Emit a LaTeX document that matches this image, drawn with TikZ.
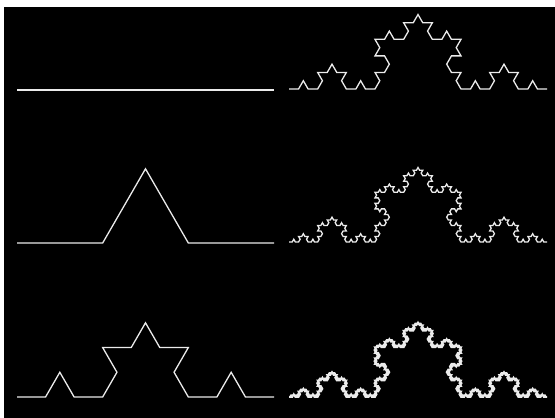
\documentclass[tikz,border=0pt]{standalone}
\usetikzlibrary{lindenmayersystems}
\pgfdeclarelindenmayersystem{Koch}{\rule{F -> F+F--F+F}}
\tikzset{
  koch/.style={draw=white!92!black, line width=1.3pt, line join=miter,
    lindenmayer system={Koch, axiom=F, order=#1, angle=60}},
}
\begin{document}
\begin{tikzpicture}[x=1pt,y=1pt]
\useasboundingbox (0,0) rectangle (555,418);
\fill[white] (0,0) rectangle (555,418);
\fill[black] (4,0) rectangle (555,411);
% left column
\begin{scope}[shift={(17,328)}]
\draw[koch=0, lindenmayer system={step=257pt}] (0,0) lindenmayer system;
\end{scope}
\begin{scope}[shift={(17,175)}]
\draw[koch=1, lindenmayer system={step=257pt/3}] (0,0) lindenmayer system;
\end{scope}
\begin{scope}[shift={(17,21)}]
\draw[koch=2, lindenmayer system={step=257pt/9}] (0,0) lindenmayer system;
\end{scope}
% right column
\begin{scope}[shift={(289,329)}]
\draw[koch=3, lindenmayer system={step=258pt/27}] (0,0) lindenmayer system;
\end{scope}
\begin{scope}[shift={(289,176)}]
\draw[koch=4, lindenmayer system={step=258pt/81}] (0,0) lindenmayer system;
\end{scope}
\begin{scope}[shift={(289,21)}]
\draw[koch=5, line width=1.8pt, lindenmayer system={step=258pt/243}] (0,0) lindenmayer system;
\end{scope}
\end{tikzpicture}
\end{document}
